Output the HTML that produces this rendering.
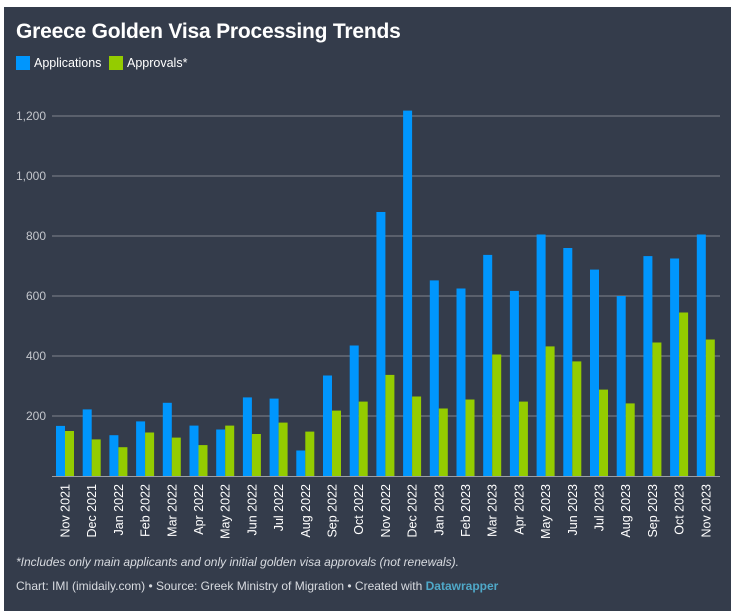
<!DOCTYPE html>
<html><head><meta charset="utf-8">
<style>
body{margin:0;background:#fff;width:738px;height:615px;overflow:hidden;font-family:"Liberation Sans",sans-serif}
#panel{position:absolute;left:4px;top:7px;width:727px;height:604px;background:#343c4b}
#title{position:absolute;left:12px;top:13px;color:#fff;font-size:21px;font-weight:bold;letter-spacing:-0.2px}
.leg{position:absolute;top:49px;color:#fff;font-size:12.5px;display:flex;align-items:center}
.sw{width:14px;height:14px;margin-right:4px}
.note{position:absolute;left:12px;color:#d8dbe0;font-size:12px}
svg{position:absolute;left:0;top:0}
</style></head><body>
<div id="panel">
<div id="title">Greece Golden Visa Processing Trends</div>
<div class="leg" style="left:12px"><div class="sw" style="background:#0096fd"></div>Applications</div>
<div class="leg" style="left:105px"><div class="sw" style="background:#94cc00"></div>Approvals*</div>
<div class="note" style="top:548px;font-style:italic">*Includes only main applicants and only initial golden visa approvals (not renewals).</div>
<div class="note" style="top:572px">Chart: IMI (imidaily.com) • Source: Greek Ministry of Migration • Created with <b style="color:#4fa8c8">Datawrapper</b></div>
</div>
<svg id="chart" width="738" height="615"></svg>
<script>
const categories=["Nov 2021","Dec 2021","Jan 2022","Feb 2022","Mar 2022","Apr 2022","May 2022","Jun 2022","Jul 2022","Aug 2022","Sep 2022","Oct 2022","Nov 2022","Dec 2022","Jan 2023","Feb 2023","Mar 2023","Apr 2023","May 2023","Jun 2023","Jul 2023","Aug 2023","Sep 2023","Oct 2023","Nov 2023"];
const applications=[167,222,136,182,244,168,155,262,258,85,335,435,880,1218,652,625,737,617,805,760,688,600,733,725,805];
const approvals=[150,122,96,145,128,103,168,140,178,148,218,248,337,265,225,255,405,248,432,382,288,242,445,545,455];
const yTicks=[200,400,600,800,1000,1200];
const tickLabels=["200","400","600","800","1,000","1,200"];
const NS="http://www.w3.org/2000/svg";
const svg=document.getElementById('chart');
const y=v=>476-v*0.3;
const xg=i=>56+i*26.7;
function mk(t,a){const e=document.createElementNS(NS,t);for(const k in a)e.setAttribute(k,a[k]);svg.appendChild(e);return e;}
yTicks.forEach((v,i)=>{
 const l=mk('line',{x1:52,x2:720,y1:y(v),y2:y(v),stroke:'#80858e','stroke-width':1});
 
 
 const t=mk('text',{x:46,y:y(v)+4,'text-anchor':'end',fill:'#c3c6cc','font-size':12,'font-family':'Liberation Sans, sans-serif'});
 t.textContent=tickLabels[i];
 
 
});
categories.forEach((c,i)=>{
 const a=mk('rect',{x:xg(i),y:y(applications[i]),width:9,height:applications[i]*0.3,fill:'#0096fd'});
 
 
 const b=mk('rect',{x:xg(i)+9,y:y(approvals[i]),width:9,height:approvals[i]*0.3,fill:'#94cc00'});
 
 
 const cx=xg(i)+9+4.5;
 const t=mk('text',{x:0,y:0,'text-anchor':'end',fill:'#fff','font-size':12.5,'font-family':'Liberation Sans, sans-serif',transform:`translate(${cx},484) rotate(-90)`});
 t.textContent=c;
 
 
});
const base=mk('line',{x1:52,x2:720,y1:476.5,y2:476.5,stroke:'#9a9ea6','stroke-width':1});


</script>
</body></html>
